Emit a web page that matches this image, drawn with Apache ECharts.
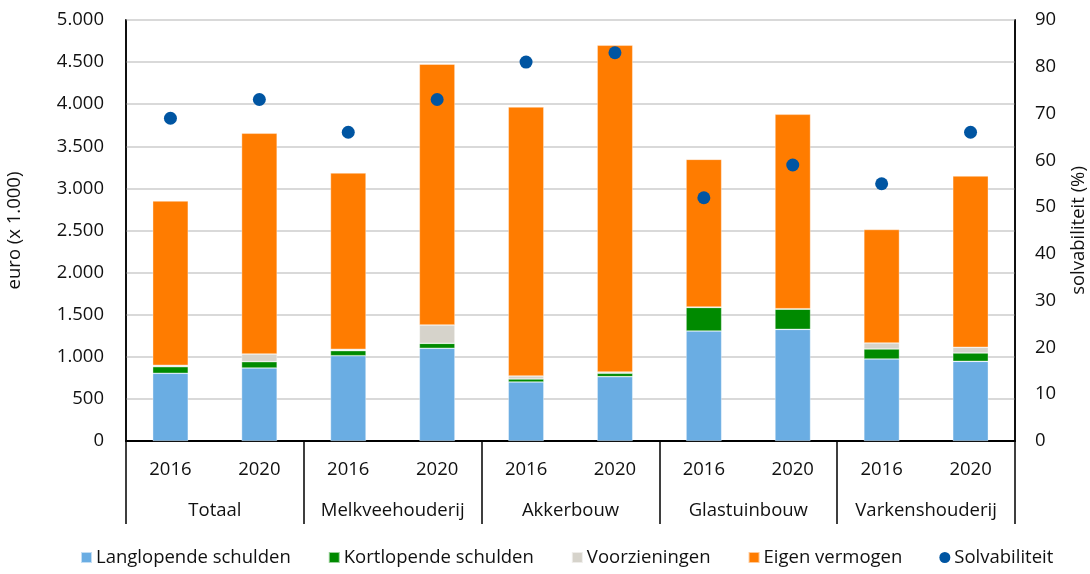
<!DOCTYPE html>
<html lang="nl">
<head>
<meta charset="UTF-8">
<title>Solvabiliteit</title>
<script src="https://cdn.jsdelivr.net/npm/echarts@6/dist/echarts.min.js"></script>
<style>
  html, body { margin: 0; padding: 0; background: #fff; }
  #chart { width: 1090px; height: 574px; }
</style>
</head>
<body>
<div id="chart"></div>
<script>
const jaren = ['2016', '2020', '2016', '2020', '2016', '2020', '2016', '2020', '2016', '2020'];
const sectoren = ['Totaal', 'Melkveehouderij', 'Akkerbouw', 'Glastuinbouw', 'Varkenshouderij'];
const langlopend = [804, 867, 1013, 1101, 701, 764, 1306, 1326, 974, 946];
const kortlopend = [78, 75, 60, 59, 35, 40, 280, 240, 119, 99];
const voorzieningen = [17, 91, 16, 218, 36, 15, 5, 5, 71, 68];
const eigenVermogen = [1951, 2622, 2094, 3097, 3195, 3881, 1754, 2309, 1348, 2034];
const solvabiliteit = [69, 73, 66, 73, 81, 83, 52, 59, 55, 66];

const font = 'Open Sans';
const tekst = '#111';
const maat = 18.5;

// Nederlandse duizendtallen: 1.000
const nl = v => String(v).replace(/\B(?=(\d{3})+(?!\d))/g, '.');

const chart = echarts.init(document.getElementById('chart'));

const balk = (naam, data, kleur) => ({
  name: naam,
  type: 'bar',
  stack: 'balans',
  barWidth: '40%',
  data: data,
  itemStyle: { color: kleur, borderColor: 'rgba(255,255,255,0.6)', borderWidth: 0.6 }
});

chart.setOption({
  animation: false,
  textStyle: { fontFamily: font, color: tekst },
  grid: {
    left: 126, right: 75, top: 20, bottom: 133,
    outerBoundsMode: 'none', containLabel: false,
    show: true, borderColor: '#000', borderWidth: 1.5
  },
  legend: {
    left: 75,
    bottom: 2,
    itemWidth: 11,
    itemHeight: 11,
    itemGap: 37,
    textStyle: { fontFamily: font, fontSize: maat, color: tekst, padding: [0, 0, 0, -1] },
    data: [
      { name: 'Langlopende schulden', icon: 'rect' },
      { name: 'Kortlopende schulden', icon: 'rect' },
      { name: 'Voorzieningen', icon: 'rect' },
      { name: 'Eigen vermogen', icon: 'rect' },
      { name: 'Solvabiliteit', icon: 'circle' }
    ]
  },
  xAxis: [
    {
      type: 'category',
      data: jaren,
      position: 'bottom',
      axisLine: { lineStyle: { color: '#000', width: 2 } },
      axisTick: { show: false },
      axisLabel: { margin: 19, fontSize: maat, color: tekst, interval: 0 }
    },
    {
      type: 'category',
      data: sectoren,
      position: 'bottom',
      offset: 0,
      axisLine: { show: false },
      axisTick: { show: true, interval: 0, length: 83, lineStyle: { color: '#000', width: 1.5 } },
      axisLabel: { margin: 60, fontSize: maat, color: tekst, interval: 0 }
    }
  ],
  yAxis: [
    {
      type: 'value',
      min: 0,
      max: 5000,
      interval: 500,
      name: 'euro (x 1.000)',
      nameLocation: 'middle',
      nameRotate: 90,
      nameGap: 102,
      nameTextStyle: { fontSize: maat, color: tekst },
      axisLine: { show: true, lineStyle: { color: '#000', width: 1.5 } },
      axisTick: { show: false },
      axisLabel: { margin: 22, fontSize: maat, color: tekst, formatter: nl },
      splitLine: { lineStyle: { color: '#d9d9d9', width: 2 } }
    },
    {
      type: 'value',
      min: 0,
      max: 90,
      interval: 10,
      position: 'right',
      name: 'solvabiliteit (%)',
      nameLocation: 'middle',
      nameRotate: 90,
      nameGap: 54,
      nameTextStyle: { fontSize: maat, color: tekst },
      axisLine: { show: true, lineStyle: { color: '#000', width: 1.5 } },
      axisTick: { show: false },
      axisLabel: { margin: 20, fontSize: maat, color: tekst },
      splitLine: { show: false }
    }
  ],
  series: [
    balk('Langlopende schulden', langlopend, '#6aade3'),
    balk('Kortlopende schulden', kortlopend, '#008a00'),
    balk('Voorzieningen', voorzieningen, '#d6d3cb'),
    balk('Eigen vermogen', eigenVermogen, '#ff7c00'),
    {
      name: 'Solvabiliteit',
      type: 'scatter',
      yAxisIndex: 1,
      symbolSize: 13,
      data: solvabiliteit,
      itemStyle: { color: '#0055a2', opacity: 1 },
      z: 5
    }
  ]
});
</script>
</body>
</html>
